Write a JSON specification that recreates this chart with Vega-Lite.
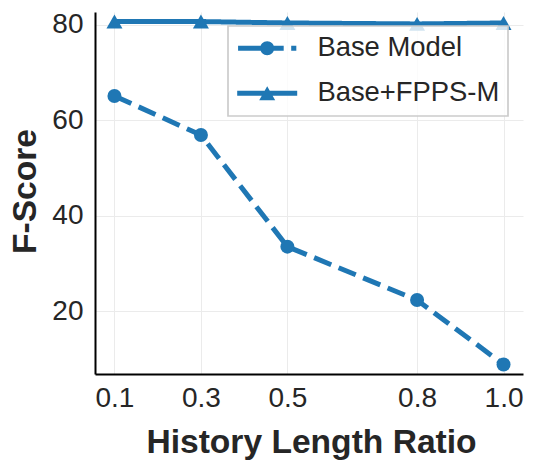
{
  "$schema": "https://vega.github.io/schema/vega-lite/v6.json",
  "width": 428,
  "height": 362,
  "autosize": {"type": "none"},
  "padding": {"left": 95, "top": 12, "right": 13, "bottom": 89},
  "background": "white",
  "config": {
    "view": {"stroke": null},
    "font": "Liberation Sans",
    "axis": {
      "grid": true,
      "gridColor": "#ebebeb",
      "gridWidth": 1,
      "domainColor": "#000000",
      "domainWidth": 2,
      "ticks": false,
      "tickSize": 0,
      "labelFont": "Liberation Sans",
      "labelFontSize": 28,
      "labelColor": "#262626",
      "titleFont": "Liberation Sans",
      "titleFontSize": 33.6,
      "titleFontWeight": "bold",
      "titleColor": "#262626"
    }
  },
  "data": {
    "values": [
      {"ratio": 0.1, "score": 65.1, "series": "Base Model"},
      {"ratio": 0.3, "score": 56.9, "series": "Base Model"},
      {"ratio": 0.5, "score": 33.5, "series": "Base Model"},
      {"ratio": 0.8, "score": 22.3, "series": "Base Model"},
      {"ratio": 1.0, "score": 8.8, "series": "Base Model"},
      {"ratio": 0.1, "score": 80.7, "series": "Base+FPPS-M"},
      {"ratio": 0.3, "score": 80.7, "series": "Base+FPPS-M"},
      {"ratio": 0.5, "score": 80.4, "series": "Base+FPPS-M"},
      {"ratio": 0.8, "score": 80.2, "series": "Base+FPPS-M"},
      {"ratio": 1.0, "score": 80.4, "series": "Base+FPPS-M"}
    ]
  },
  "encoding": {
    "x": {
      "field": "ratio",
      "type": "quantitative",
      "scale": {"domain": [0.055, 1.045], "nice": false, "zero": false},
      "axis": {
        "values": [0.1, 0.3, 0.5, 0.8, 1.0],
        "format": ".1f",
        "labelPadding": 10,
        "title": "History Length Ratio",
        "titleX": 216,
        "titleY": 78,
        "titleBaseline": "alphabetic",
        "titleAlign": "center"
      }
    },
    "y": {
      "field": "score",
      "type": "quantitative",
      "scale": {"domain": [6.8, 82.7], "nice": false, "zero": false},
      "axis": {
        "values": [20, 40, 60, 80],
        "labelPadding": 12,
        "title": "F-Score",
        "titleX": -60,
        "titleY": 179,
        "titleAngle": 270,
        "titleBaseline": "alphabetic",
        "titleAlign": "center"
      }
    },
    "color": {
      "field": "series",
      "type": "nominal",
      "scale": {"domain": ["Base Model", "Base+FPPS-M"], "range": ["#1f77b4", "#1f77b4"]},
      "legend": {
        "title": null,
        "orient": "none",
        "legendX": 133,
        "legendY": 14,
        "direction": "vertical",
        "fillColor": "rgba(255,255,255,0.8)",
        "strokeColor": "#cccccc",
        "padding": 8.5,
        "rowPadding": 16,
        "labelFont": "Liberation Sans",
        "labelFontSize": 27.4,
        "labelColor": "#262626",
        "labelOffset": 36.5,
        "labelLimit": 400,
        "symbolSize": 625,
        "symbolOffset": 17,
        "encode": {
          "legend": {
            "update": {"strokeWidth": {"value": 1.7}}
          },
          "symbols": {
            "update": {
              "shape": [
                {"test": "datum.value === 'Base Model'", "value": "M-2.33,-0.2H1.32V0.2H-2.33Z M1.92,-0.2H2.33V0.2H1.92Z M-0.56,0A0.56,0.56,0,0,1,0.56,0A0.56,0.56,0,0,1,-0.56,0Z"},
                {"value": "M-2.4,-0.2H2.4V0.2H-2.4Z M0,-0.56L0.64,0.56L-0.64,0.56Z"}
              ],
              "fill": {"value": "#1f77b4"},
              "fillOpacity": {"value": 1},
              "stroke": {"value": "transparent"},
              "strokeWidth": {"value": 0},
              "strokeDash": {"value": [1, 0]},
              "size": {"value": 625}
            }
          }
        }
      }
    }
  },
  "layer": [
    {
      "mark": {"type": "line", "strokeWidth": 5},
      "encoding": {
        "strokeDash": {
          "field": "series",
          "type": "nominal",
          "scale": {"domain": ["Base Model", "Base+FPPS-M"], "range": [[18.5, 8], [1, 0]]},
          "legend": null
        }
      }
    },
    {
      "transform": [{"filter": "datum.series === 'Base Model'"}],
      "mark": {"type": "point", "filled": true, "opacity": 1, "shape": "circle", "size": 196}
    },
    {
      "transform": [{"filter": "datum.series === 'Base+FPPS-M'"}],
      "mark": {"type": "point", "filled": true, "opacity": 1, "shape": "triangle-up", "size": 256}
    }
  ]
}
